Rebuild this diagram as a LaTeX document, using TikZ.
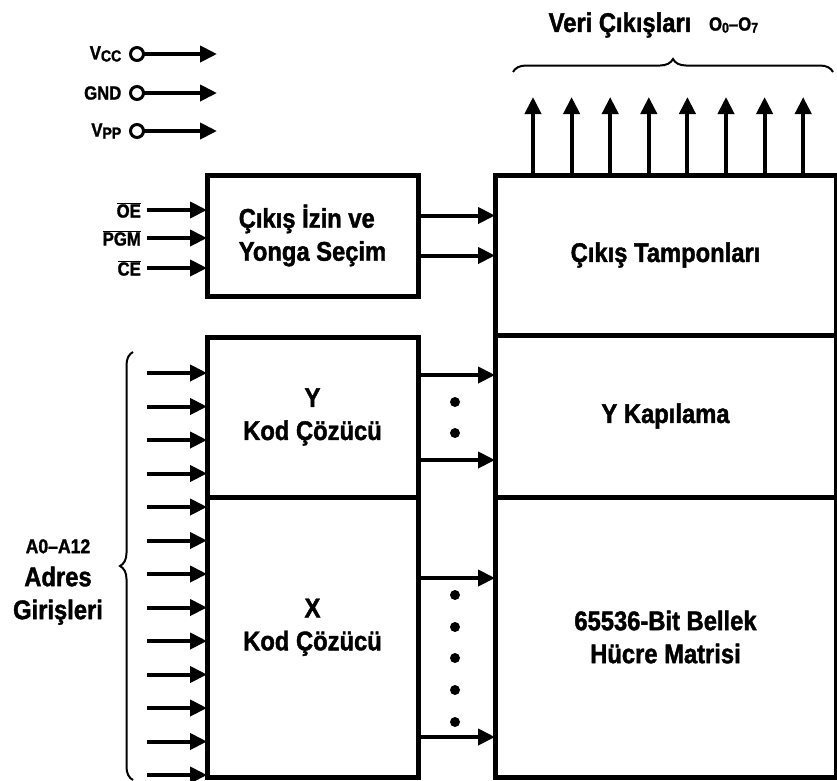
\documentclass[tikz,border=0pt]{standalone}
\usepackage{fontspec}
\setmainfont{Liberation Sans}[FakeStretch=0.88,BoldFeatures={FakeBold=1.5}]
\usetikzlibrary{arrows.meta,positioning,calc,decorations.pathreplacing}

\begin{document}
\begin{tikzpicture}[
  x=1pt,y=-1pt,font=\bfseries\fontsize{27}{33}\selectfont,
  blk/.style={draw,line width=5pt,align=center,inner sep=0pt,outer sep=0pt},
  pin/.style={circle,draw,line width=3pt,minimum size=13pt,inner sep=0pt,outer sep=0pt},
  sml/.style={font=\bfseries\fontsize{19}{22}\selectfont,inner sep=0pt},
  ar/.style={-{Triangle[length=17pt,width=16pt]},line width=4pt},
  brc/.style={decorate,decoration={brace,amplitude=13pt},line width=2pt}
]
\useasboundingbox (0,0) rectangle (837,780);

% blocks
\node[blk,minimum width=211pt,minimum height=121pt,align=left] (ctl) at (312.5,235.5)
     {Çıkış İzin ve\\Yonga Seçim};
\node[blk,minimum width=211pt,minimum height=160pt] (ydec) at (312.5,417) {Y\\Kod Çözücü};
\node[blk,minimum width=211pt,minimum height=280pt] (xdec) at (312.5,637)
     {X\\Kod Çözücü\\[-8pt]};
\node[blk,minimum width=341pt,minimum height=160pt] (buf)   at (665.5,255) {Çıkış Tamponları};
\node[blk,minimum width=341pt,minimum height=162pt] (ygate) at (665.5,416) {Y Kapılama};
\node[blk,minimum width=341pt,minimum height=280pt] (mat)   at (665.5,637)
     {65536-Bit Bellek\\Hücre Matrisi};

% supply pins
\node[pin] (vcc) at (137,54)  {};
\node[pin] (gnd) at (137,93)  {};
\node[pin] (vpp) at (137,131) {};
\node[sml,left=9pt of vcc] (vcc-l) {V\raisebox{-2pt}{\fontsize{16}{16}\selectfont CC}};
\node[sml,left=9pt of gnd] (gnd-l) {GND};
\node[sml,left=9pt of vpp] (vpp-l) {V\raisebox{-2pt}{\fontsize{16}{16}\selectfont PP}};
\coordinate (vcc-e) at (217,54);
\coordinate (gnd-e) at (217,93);
\coordinate (vpp-e) at (217,131);
\draw[ar] (vcc) -- (vcc-e);
\draw[ar] (gnd) -- (gnd-e);
\draw[ar] (vpp) -- (vpp-e);

% control inputs
\coordinate (oe)  at (147,210);
\coordinate (pgm) at (147,238);
\coordinate (ce)  at (147,268);
\node[sml,left=6pt of oe]  (oe-l)  {$\overline{\mbox{OE}}$};
\node[sml,left=6pt of pgm] (pgm-l) {$\overline{\mbox{PGM}}$};
\node[sml,left=6pt of ce]  (ce-l)  {$\overline{\mbox{CE}}$};
\draw[ar] (oe)  -- (oe -| ctl.west);
\draw[ar] (pgm) -- (pgm -| ctl.west);
\draw[ar] (ce)  -- (ce -| ctl.west);

\draw[ar] ([yshift=20pt]ctl.east)  -- ([yshift=20pt]ctl.east -| buf.west);
\draw[ar] ([yshift=-20pt]ctl.east) -- ([yshift=-20pt]ctl.east -| buf.west);

% address inputs
\foreach \i in {0,...,12} {
  \coordinate (a\i) at (147,{373+33.5*\i});
  \draw[ar] (a\i) -- (a\i -| ydec.west);
}
\coordinate (br-t) at (133,352);
\coordinate (br-b) at (133,780);
\draw[brc] (br-b) -- (br-t);
\node[align=center] (adr) at (58,582)
     {{\fontsize{20}{24}\selectfont A0--A12}\\Adres\\Girişleri};

% decoder outputs
\draw[ar] ([yshift=42pt]ydec.east)   -- ([yshift=42pt]ydec.east -| ygate.west);
\draw[ar] ([yshift=-43pt]ydec.east)  -- ([yshift=-43pt]ydec.east -| ygate.west);
\draw[ar] ([yshift=59pt]xdec.east)   -- ([yshift=59pt]xdec.east -| mat.west);
\draw[ar] ([yshift=-100pt]xdec.east) -- ([yshift=-100pt]xdec.east -| mat.west);
\foreach \y in {402,433,595,627,658,690,722}
  \fill (455,\y) circle (5pt);

% data outputs
\foreach \i in {0,...,7} {
  \coordinate (q\i) at ({533+38.6*\i},97);
  \draw[ar] (q\i |- buf.north) -- (q\i);
}
\coordinate (ob-l) at (513,72);
\coordinate (ob-r) at (833,72);
\draw[brc] (ob-l) -- (ob-r);
\node (veri) at (620,25) {Veri Çıkışları};
\node[sml,right=14pt of veri] (oo)
     {O\raisebox{-2pt}{\fontsize{14}{14}\selectfont 0}--O\raisebox{-2pt}{\fontsize{14}{14}\selectfont 7}};

\end{tikzpicture}
\end{document}
